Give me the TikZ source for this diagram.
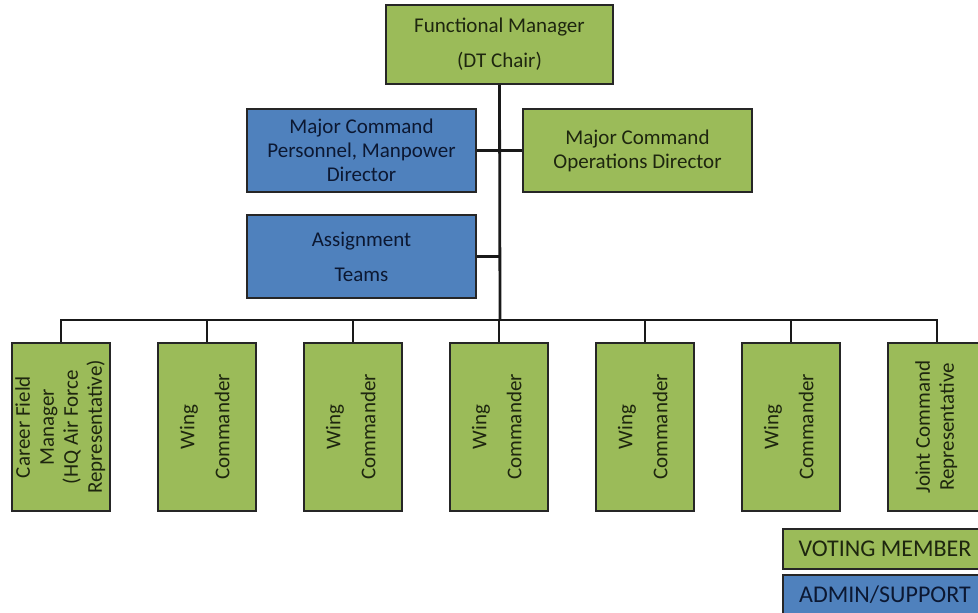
\documentclass[tikz,border=0pt]{standalone}
\usepackage{fontspec}
\setmainfont{Carlito}
\usepackage{graphicx}
\usetikzlibrary{positioning}

\definecolor{votegreen}{RGB}{155,187,89}
\definecolor{adminblue}{RGB}{79,129,189}
\definecolor{greentext}{RGB}{30,38,15}
\definecolor{bluetext}{RGB}{12,24,50}

\newcommand{\vtext}[1]{\rotatebox{90}{\begin{tabular}{@{}c@{}}#1\end{tabular}}}

\begin{document}
\begin{tikzpicture}[x=1pt, y=-1pt,
    voter/.style={draw=black!85, line width=2pt, fill=votegreen, text=greentext, inner sep=0pt, align=center},
    admin/.style={draw=black!85, line width=2pt, fill=adminblue, text=bluetext, inner sep=0pt, align=center},
    every node/.style={font=\fontsize{21}{24}\selectfont},
    link/.style={line width=2.3pt, black!90},
    drop/.style={line width=1.6pt, black!90}]
        \useasboundingbox (0,0) rectangle (978,613);
        % top of the chart
        \node[voter, minimum width=227pt, minimum height=79pt] (fm) at (499.5,44.5) {Functional Manager\\[11pt](DT Chair)};
        \node[admin, minimum width=229pt, minimum height=83pt] (pers) at (361.5,150.5) {Major Command\\Personnel, Manpower\\Director};
        \node[voter, minimum width=229pt, minimum height=83pt] (ops) at (637.5,150.5) {Major Command\\Operations Director};
        \node[admin, minimum width=229pt, minimum height=83pt] (asgn) at (361.5,256.5) {Assignment\\[11pt]Teams};
        \coordinate (bus) at (500,320);
        % bottom row
        \node[voter, minimum width=98pt, minimum height=168pt] (career) at (61,427) {\vtext{Career Field\\Manager\\(HQ Air Force\\Representative)}};
        \foreach \i in {1,...,5}
            \node[voter, minimum width=98pt, minimum height=168pt] (wing\i) at ({61+146*\i},427) {\vtext{Wing\\[11pt]Commander}};
        \node[voter, minimum width=98pt, minimum height=168pt] (joint) at (937,427) {\vtext{Joint Command\\Representative}};
        % legend
        \node[voter, minimum width=204pt, minimum height=40pt, font=\fontsize{24}{28}\selectfont] (legvote) at (885,549) {VOTING MEMBER};
        \node[admin, minimum width=204pt, minimum height=40pt, font=\fontsize{24}{28}\selectfont] (legadmin) at (885,595) {ADMIN/SUPPORT};
        % connectors
        \draw[link, line width=2.8pt] (fm.south) -- (bus);
        \draw[link] (pers.east) -- (ops.west);
        \draw[link] (asgn.east) -- (asgn.east -| bus);
        \draw[link] (career.north) |- (bus) -| (joint.north);
        \foreach \i in {1,...,5}
            \draw[drop] (wing\i.north) -- (wing\i.north |- bus);
    \end{tikzpicture}
\end{document}
